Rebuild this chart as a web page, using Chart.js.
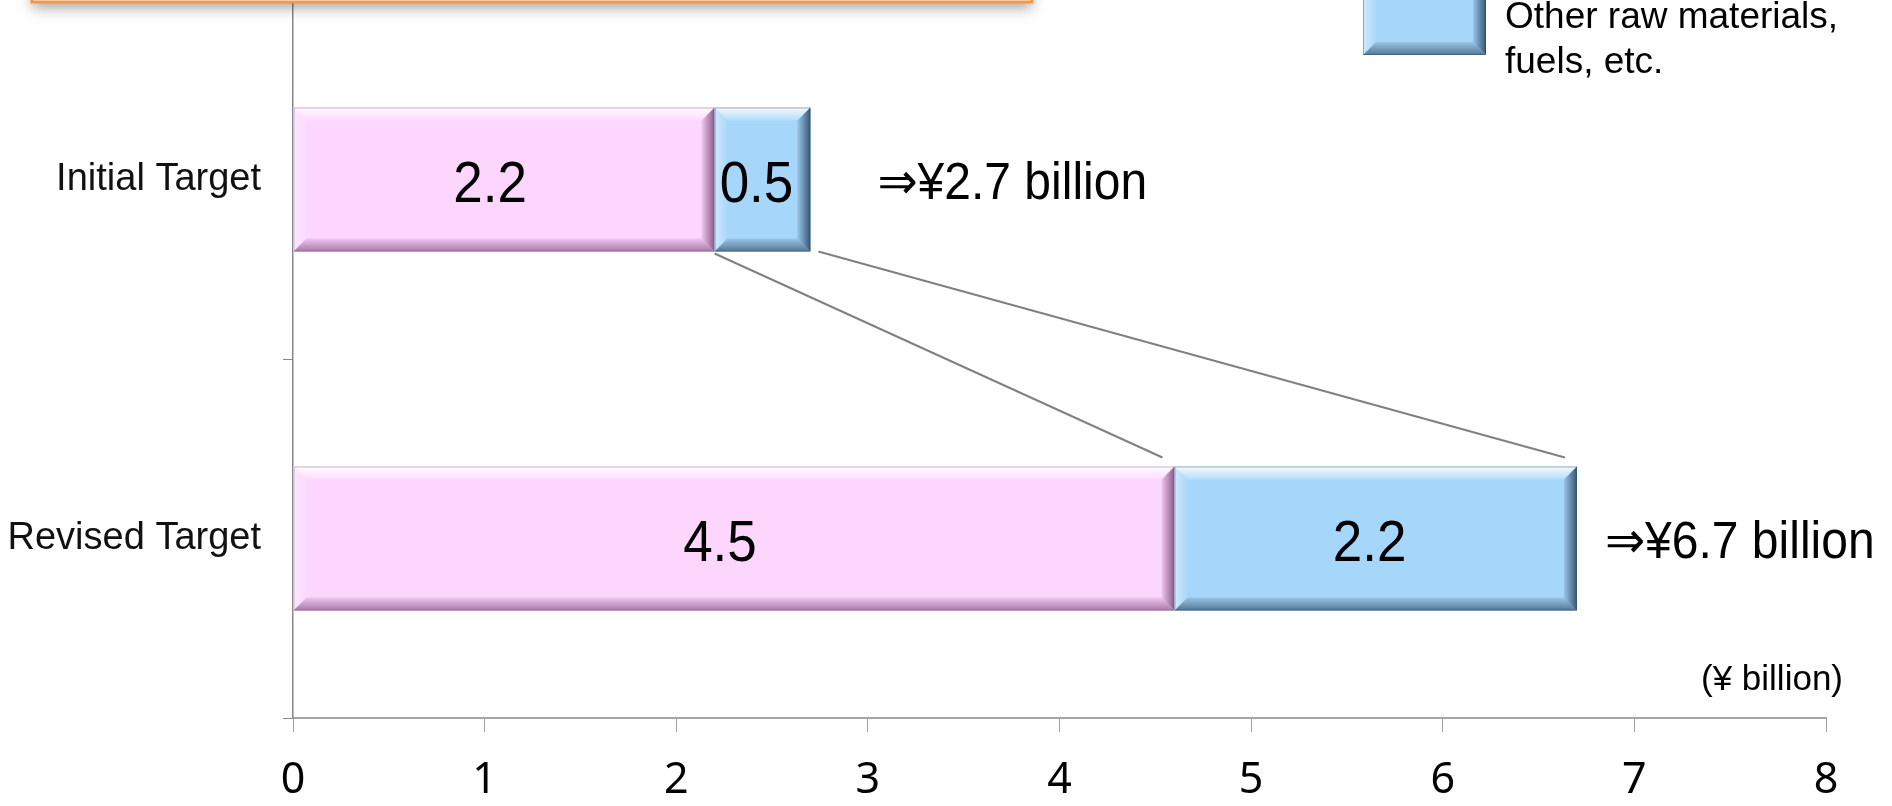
<!DOCTYPE html>
<html>
<head>
<meta charset="utf-8">
<script src="https://cdn.jsdelivr.net/npm/chart.js@4"></script>
<style>
  html, body { margin: 0; padding: 0; background: #fff; overflow: hidden; }
  #chart { display: block; }
</style>
</head>
<body>
<canvas id="chart" width="1892" height="806"></canvas>
<script>
// Chart data
const categories = ['Initial Target', 'Revised Target'];
const pinkValues = [2.2, 4.6];
const blueValues = [0.5, 2.1];
const pinkLabels = ['2.2', '4.5'];
const blueLabels = ['0.5', '2.2'];
const totalLabels = ['⇒¥2.7 billion', '⇒¥6.7 billion'];
const legendLines = ['Other raw materials,', 'fuels, etc.'];
const unitLabel = '(¥ billion)';

const PINK = '#fdd6fd';
const BLUE = '#a6d6fa';

// bevelled box, like the office "bevel" shape effect
function bevelBox(ctx, x0, y0, x1, y1, fill, shade) {
  const b = 13;
  ctx.save();
  ctx.fillStyle = fill;
  ctx.fillRect(x0, y0, x1 - x0, y1 - y0);
  const poly = (pts, grad) => {
    ctx.beginPath();
    ctx.moveTo(pts[0][0], pts[0][1]);
    for (let i = 1; i < pts.length; i++) ctx.lineTo(pts[i][0], pts[i][1]);
    ctx.closePath();
    ctx.fillStyle = grad;
    ctx.fill();
  };
  let g = ctx.createLinearGradient(0, y0, 0, y0 + b);
  g.addColorStop(0, 'rgba(255,255,255,0.9)');
  g.addColorStop(1, 'rgba(255,255,255,0.15)');
  poly([[x0, y0], [x1, y0], [x1 - b, y0 + b], [x0 + b, y0 + b]], g);
  g = ctx.createLinearGradient(x0, 0, x0 + b, 0);
  g.addColorStop(0, 'rgba(255,255,255,0.45)');
  g.addColorStop(1, 'rgba(255,255,255,0.05)');
  poly([[x0, y0], [x0 + b, y0 + b], [x0 + b, y1 - b], [x0, y1]], g);
  g = ctx.createLinearGradient(0, y1, 0, y1 - b);
  g.addColorStop(0, shade + '0.6)');
  g.addColorStop(1, shade + '0.1)');
  poly([[x0, y1], [x0 + b, y1 - b], [x1 - b, y1 - b], [x1, y1]], g);
  g = ctx.createLinearGradient(x1, 0, x1 - b, 0);
  g.addColorStop(0, shade + '0.8)');
  g.addColorStop(1, shade + '0.1)');
  poly([[x1, y0], [x1, y1], [x1 - b, y1 - b], [x1 - b, y0 + b]], g);
  ctx.strokeStyle = shade + '0.35)';
  ctx.lineWidth = 1;
  ctx.strokeRect(x0 + 0.5, y0 + 0.5, x1 - x0 - 1, y1 - y0 - 1);
  ctx.restore();
}

const shades = ['rgba(110,60,110,', 'rgba(30,55,80,'];
const fills = [PINK, BLUE];

// text a bit taller than wide, as in the source slide
function tallText(ctx, text, x, y, sy) {
  ctx.save();
  ctx.translate(x, y);
  ctx.scale(1, sy);
  ctx.fillText(text, 0, 0);
  ctx.restore();
}

const decorPlugin = {
  id: 'decor',
  beforeDatasetsDraw(chart) {
    const ctx = chart.ctx;
    const top = chart.getDatasetMeta(0).data;
    const p0 = top[0], p1 = top[1];
    const b0 = chart.getDatasetMeta(1).data[0], b1 = chart.getDatasetMeta(1).data[1];
    ctx.save();
    ctx.strokeStyle = '#808080';
    ctx.lineWidth = 2;
    ctx.beginPath();
    ctx.moveTo(p0.x, p0.y + p0.height / 2 + 2);
    ctx.lineTo(p1.x - 12, p1.y - p1.height / 2 - 9);
    ctx.moveTo(b0.x + 8, b0.y + b0.height / 2);
    ctx.lineTo(b1.x - 12, b1.y - b1.height / 2 - 9);
    ctx.stroke();
    ctx.restore();
  },
  afterDatasetsDraw(chart) {
    const ctx = chart.ctx;
    [0, 1].forEach(di => {
      chart.getDatasetMeta(di).data.forEach(el => {
        const h = el.height / 2;
        bevelBox(ctx, Math.min(el.base, el.x), el.y - h, Math.max(el.base, el.x), el.y + h, fills[di], shades[di]);
      });
    });
    // labels inside bars
    ctx.save();
    ctx.fillStyle = '#000';
    ctx.textAlign = 'center';
    ctx.textBaseline = 'middle';
    ctx.font = '53px "Liberation Sans", Arial, sans-serif';
    [pinkLabels, blueLabels].forEach((labels, di) => {
      chart.getDatasetMeta(di).data.forEach((el, i) => {
        tallText(ctx, labels[i], (el.base + el.x) / 2 - (di === 0 ? 14 : 6), el.y + 7, 1.08);
      });
    });
    // totals to the right
    const gaps = [67, 28];
    ctx.textAlign = 'left';
    ctx.font = '48px "Liberation Sans", Arial, "DejaVu Sans", sans-serif';
    chart.getDatasetMeta(1).data.forEach((el, i) => {
      tallText(ctx, totalLabels[i], el.x + gaps[i], el.y + 5, 1.08);
    });
    // unit label
    ctx.font = '35px "Liberation Sans", Arial, sans-serif';
    ctx.textAlign = 'right';
    ctx.fillText(unitLabel, chart.chartArea.right + 17, 680);
    ctx.restore();
  },
  afterDraw(chart) {
    const ctx = chart.ctx;
    // orange title box (cut off at the top)
    ctx.save();
    ctx.shadowColor = 'rgba(0,0,0,0.35)';
    ctx.shadowBlur = 14;
    ctx.shadowOffsetY = 6;
    ctx.fillStyle = '#fff';
    ctx.fillRect(32, -40, 1000, 42);
    ctx.restore();
    ctx.save();
    ctx.strokeStyle = '#f79646';
    ctx.lineWidth = 3;
    ctx.strokeRect(32, -40, 1000, 42);
    ctx.restore();
    // legend item
    bevelBox(ctx, 1363, -14, 1486, 55, BLUE, shades[1]);
    ctx.save();
    ctx.fillStyle = '#000';
    ctx.font = '37px "Liberation Sans", Arial, sans-serif';
    ctx.textBaseline = 'alphabetic';
    ctx.textAlign = 'left';
    ctx.fillText(legendLines[0], 1505, 28);
    ctx.fillText(legendLines[1], 1505, 73);
    ctx.restore();
  }
};

const chart = new Chart(document.getElementById('chart'), {
  type: 'bar',
  data: {
    labels: categories,
    datasets: [
      { label: '', data: pinkValues, backgroundColor: PINK },
      { label: legendLines.join(' '), data: blueValues, backgroundColor: BLUE }
    ]
  },
  options: {
    indexAxis: 'y',
    responsive: false,
    animation: false,
    devicePixelRatio: 1,
    layout: { padding: { top: 0, right: 66, left: 0, bottom: 0 } },
    datasets: { bar: { categoryPercentage: 1, barPercentage: 0.401, borderWidth: 0 } },
    plugins: { legend: { display: false }, tooltip: { enabled: false } },
    scales: {
      x: {
        stacked: true,
        min: 0,
        max: 8,
        ticks: { stepSize: 1, color: '#000', padding: 23, font: { family: '"Noto Sans", sans-serif', size: 43 } },
        grid: { drawOnChartArea: false, tickLength: 14, color: '#a0a0a0' },
        border: { color: '#a6a6a6', width: 2 },
        afterFit(s) { s.height = 88; s.paddingLeft = 0; s.paddingRight = 0; }
      },
      y: {
        stacked: true,
        ticks: { color: '#111', padding: 22, font: { family: '"Liberation Sans", Arial, sans-serif', size: 38 } },
        grid: { drawOnChartArea: false, tickLength: 10, color: '#888' },
        border: { color: '#888', width: 1.5 },
        afterFit(s) { s.width = 293; s.paddingTop = 0; s.paddingBottom = 0; }
      }
    }
  },
  plugins: [decorPlugin]
});
</script>
</body>
</html>
